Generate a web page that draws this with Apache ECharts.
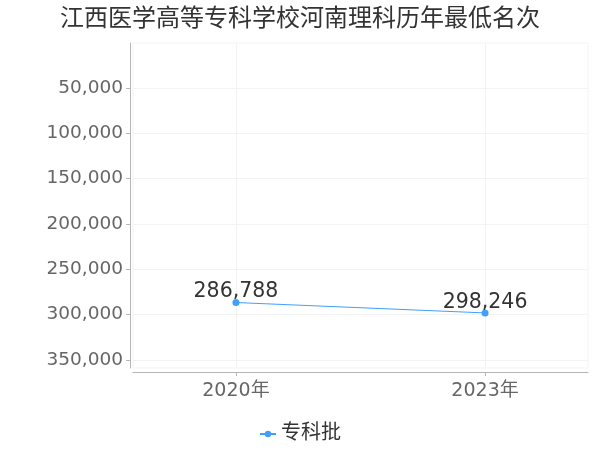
<!DOCTYPE html>
<html>
<head>
<meta charset="utf-8">
<script src="https://cdn.jsdelivr.net/npm/echarts@6/dist/echarts.min.js"></script>
<style>html,body{margin:0;padding:0;background:#fff}#c{width:600px;height:450px}</style>
</head>
<body>
<div id="c"></div>
<script>
var titleText = '江西医学高等专科学校河南理科历年最低名次';
var seriesName = '专科批';
var years = [2020, 2023];
var yearLabels = ['2020年', '2023年'];
var ranks = [286788, 298246];
var yTicks = [50000, 100000, 150000, 200000, 250000, 300000, 350000];

var chart = echarts.init(document.getElementById('c'));
var font = 'DejaVu Sans, Noto Sans CJK SC, sans-serif';
chart.setOption({
  backgroundColor: '#fff',
  animation: false,
  title: {
    text: titleText, left: 'center', top: 3,
    textStyle: { fontSize: 24, fontWeight: 'normal', color: '#333', fontFamily: font }
  },
  legend: {
    bottom: 1, left: 'center',
    itemWidth: 16, itemHeight: 8,
    textStyle: { fontSize: 20, color: '#333', fontFamily: font },
    data: [seriesName]
  },
  grid: {
    left: 133, right: 12, top: 43, bottom: 82,
    show: true, borderColor: '#f3f3f3', borderWidth: 1
  },
  xAxis: {
    type: 'value',
    min: 2018.76, max: 2024.24,
    offset: 4,
    axisLine: { show: true, lineStyle: { color: '#b5b5b5' } },
    axisTick: { show: true, length: 4, customValues: years, lineStyle: { color: '#b5b5b5' } },
    axisLabel: {
      customValues: years, fontSize: 19, color: '#666', margin: 10, fontFamily: font,
      formatter: function (v) { var i = years.indexOf(Math.round(v)); return i >= 0 ? yearLabels[i] : ''; }
    },
    splitLine: { show: true, lineStyle: { color: '#f3f3f3' } }
  },
  yAxis: {
    type: 'value', inverse: true,
    min: 500, max: 359000,
    offset: 3,
    axisLine: { show: true, lineStyle: { color: '#b5b5b5' } },
    axisTick: { show: true, length: 4, customValues: yTicks, lineStyle: { color: '#b5b5b5' } },
    axisLabel: {
      customValues: yTicks, fontSize: 18.5, color: '#666', margin: 7, fontFamily: font,
      formatter: function (v) { return v.toLocaleString('en-US'); }
    },
    splitLine: { show: true, lineStyle: { color: '#f3f3f3' } }
  },
  series: [{
    name: seriesName,
    type: 'line',
    data: years.map(function (y, i) { return [y, ranks[i]]; }),
    symbol: 'circle', symbolSize: 7,
    itemStyle: { color: '#3fa0ff' },
    lineStyle: { color: '#3fa0ff', width: 1 },
    label: {
      show: true, position: 'top', distance: -3,
      fontSize: 20.5, color: '#333', fontFamily: font,
      formatter: function (p) { return p.value[1].toLocaleString('en-US'); }
    }
  }]
});
</script>
</body>
</html>
